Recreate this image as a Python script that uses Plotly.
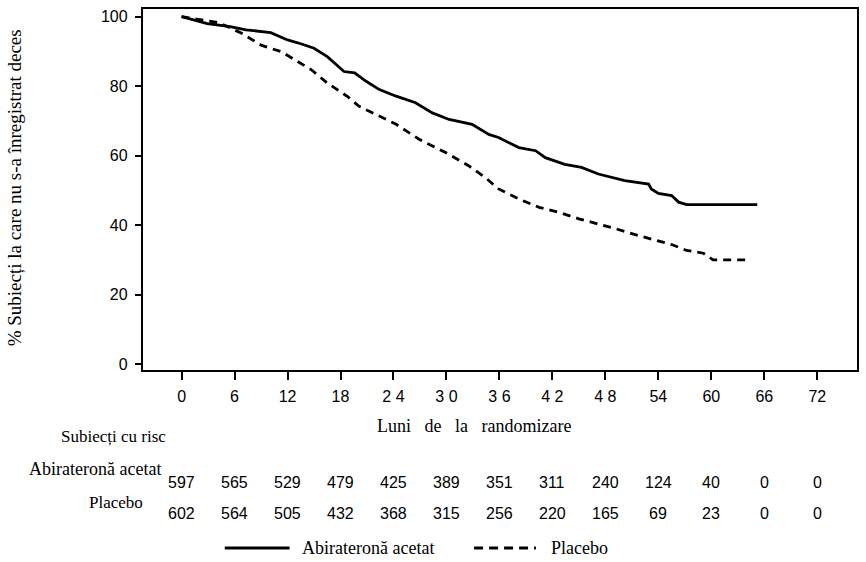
import plotly.graph_objects as go

# ---- data ----
abi_months = [0, 2.9, 5.5, 7.3, 10.1, 12, 13.5, 15, 16.5, 18.4, 19.6, 20.9, 22.4, 24.3, 26.5,
              28.4, 30.3, 32.9, 34.8, 35.9, 38.2, 40.1, 41.2, 43.4, 45.3, 47.2, 50.2, 52.9,
              53.2, 54.0, 55.5, 56.3, 57.2, 65.2]
abi_surv = [100, 98, 97.1, 96.2, 95.4, 93.3, 92.2, 90.9, 88.5, 84.2, 83.8, 81.4, 79, 77.1, 75.2,
            72.3, 70.4, 69, 66.1, 65.2, 62.3, 61.4, 59.4, 57.5, 56.6, 54.7, 52.8, 51.8,
            50.4, 49.1, 48.5, 46.6, 45.9, 45.9]

pla_months = [0, 2.2, 4.3, 6.8, 9, 11.3, 12.8, 14.7, 16.5, 18.8, 20.1, 21.6, 24.3, 26.9, 29.9,
              32.5, 34.4, 35.9, 38.2, 40.5, 42.7, 45, 47.2, 49.1, 51.7, 53.8, 55.5, 57.2,
              59.1, 60.2, 64.5]
pla_surv = [100, 99, 98.2, 95.2, 91.8, 89.9, 87.6, 84.7, 80.9, 77, 74.2, 72.3, 69, 64.7, 60.9,
            57.1, 53.7, 50.4, 47.5, 45.1, 43.7, 41.8, 40.4, 39, 37, 35.6, 34.4, 32.7,
            31.9, 30, 30]

tick_vals = [0, 6, 12, 18, 24, 30, 36, 42, 48, 54, 60, 66, 72]
tick_text = ["0", "6", "12", "18", "2 4", "3 0", "3 6", "4 2", "4 8", "54", "60", "66", "72"]

risk_abi = [597, 565, 529, 479, 425, 389, 351, 311, 240, 124, 40, 0, 0]
risk_pla = [602, 564, 505, 432, 368, 315, 256, 220, 165, 69, 23, 0, 0]

name_abi = "Abirateronă acetat"
name_pla = "Placebo"

# ---- layout geometry ----
W, H = 866, 562
ML, MR, MT, MB = 143, 7, 7, 192
PH = H - MT - MB
PW = W - ML - MR


def py(ypix):
    return (H - MB - ypix) / PH


def px(xpix):
    return (xpix - ML) / PW


SERIF = "Liberation Serif, Times New Roman, serif"
SANS = "Liberation Sans, Arial, sans-serif"


def note(text, x, y, size=15, family=SERIF, xref="paper", xanchor="center", angle=0):
    return dict(text=text, x=x, y=y, xref=xref, yref="paper", showarrow=False,
                xanchor=xanchor, yanchor="middle", textangle=angle,
                font=dict(family=family, size=size, color="black"))


fig = go.Figure()
fig.add_trace(go.Scatter(x=abi_months, y=abi_surv, mode="lines", name=name_abi,
                         line=dict(color="black", width=2.8), showlegend=False))
fig.add_trace(go.Scatter(x=pla_months, y=pla_surv, mode="lines", name=name_pla,
                         line=dict(color="black", width=2.8, dash="8px,6px"), showlegend=False))

sp = "\u00a0\u00a0\u00a0"
annotations = [
    note("% Subiecți la care nu s-a înregistrat deces", px(14), py(187), size=19, angle=-90),
    note("Luni" + sp + "de" + sp + "la" + sp + "randomizare", px(475), py(426), size=18),
    note("Subiecți cu risc", px(113), py(437), size=17),
    note(name_abi, px(95), py(470), size=18),
    note(name_pla, px(116), py(503), size=17),
    note(name_abi, px(300), py(549), size=18, xanchor="left"),
    note(name_pla, px(550), py(549), size=18, xanchor="left"),
]
for m, a, p in zip(tick_vals, risk_abi, risk_pla):
    annotations.append(note(str(a), m, py(483), size=16, family=SANS, xref="x"))
    annotations.append(note(str(p), m, py(514), size=16, family=SANS, xref="x"))

shapes = [
    dict(type="line", xref="paper", yref="paper", x0=px(225), x1=px(290), y0=py(549), y1=py(549),
         line=dict(color="black", width=2.8)),
    dict(type="line", xref="paper", yref="paper", x0=px(475), x1=px(537), y0=py(549), y1=py(549),
         line=dict(color="black", width=2.8, dash="9px,6px")),
]

fig.update_layout(
    width=W, height=H,
    margin=dict(l=ML, r=MR, t=MT, b=MB),
    paper_bgcolor="white", plot_bgcolor="white",
    annotations=annotations, shapes=shapes,
    showlegend=False,
)
fig.update_xaxes(range=[-4.37, 76.5], tickvals=tick_vals, ticktext=tick_text,
                 showgrid=False, zeroline=False, showline=True, mirror=True,
                 linecolor="black", linewidth=2.4, ticks="outside", ticklen=8, tickwidth=2.4,
                 tickcolor="black", ticklabelstandoff=3,
                 tickfont=dict(family=SANS, size=16, color="black"))
fig.update_yaxes(range=[-1.72, 102.2], tickvals=[0, 20, 40, 60, 80, 100],
                 showgrid=False, zeroline=False, showline=True, mirror=True,
                 linecolor="black", linewidth=2.4, ticks="outside", ticklen=6, tickwidth=2.4,
                 tickcolor="black", ticklabelstandoff=4,
                 tickfont=dict(family=SANS, size=16, color="black"))

fig.write_html("out.html")
